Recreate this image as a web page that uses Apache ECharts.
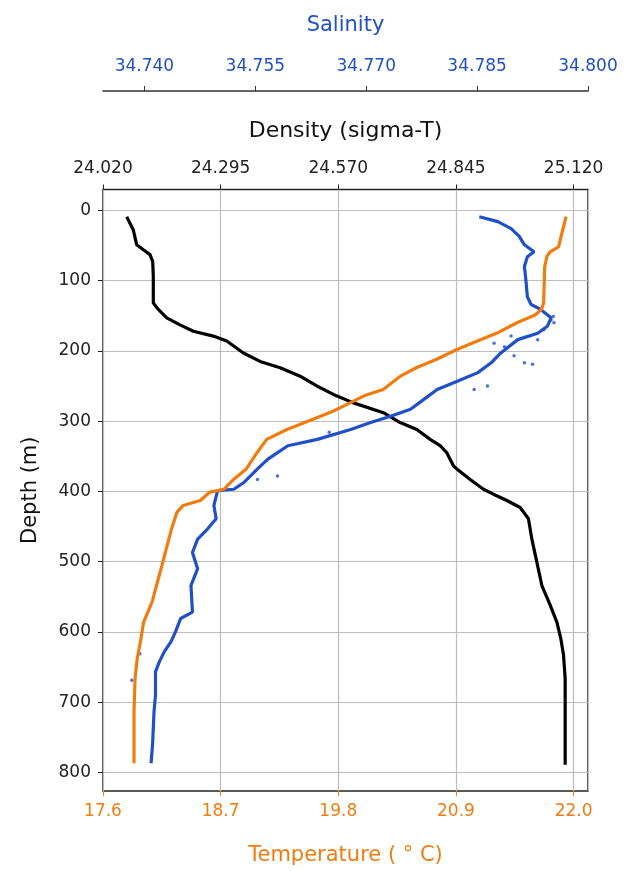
<!DOCTYPE html>
<html>
<head>
<meta charset="utf-8">
<script src="https://cdn.jsdelivr.net/npm/echarts@6/dist/echarts.min.js"></script>
<style>
html,body{margin:0;padding:0;background:#fff;}
#main{width:630px;height:871px;}
</style>
</head>
<body>
<div id="main"></div>
<script>
// temperature profile (orange)
var depthT = [9, 33, 52, 59, 66, 80, 132, 141, 149, 160, 175, 186, 198, 212, 224, 236, 255, 264, 274, 286, 297, 312, 326, 345, 368, 383, 397, 401, 413, 420, 430, 454, 477, 506, 534, 557, 586, 614, 638, 666, 714, 787];
var tempVals = [21.93, 21.89, 21.86, 21.78, 21.75, 21.73, 21.72, 21.70, 21.64, 21.47, 21.28, 21.10, 20.91, 20.72, 20.53, 20.38, 20.22, 20.04, 19.91, 19.75, 19.57, 19.32, 19.13, 19.04, 18.94, 18.82, 18.73, 18.60, 18.51, 18.35, 18.29, 18.24, 18.20, 18.15, 18.10, 18.06, 17.98, 17.95, 17.92, 17.90, 17.89, 17.89];

// salinity profile (blue)
var depthS = [9, 16, 26, 37, 49, 59, 66, 80, 99, 123, 134, 141, 153, 165, 175, 184, 203, 217, 231, 243, 255, 269, 283, 293, 302, 312, 326, 335, 354, 368, 387, 397, 399, 420, 439, 454, 468, 487, 510, 534, 572, 581, 600, 614, 628, 643, 657, 690, 714, 761, 787];
var salVals = [34.7853, 34.7878, 34.7896, 34.7907, 34.7914, 34.7927, 34.7918, 34.7914, 34.7916, 34.7918, 34.7923, 34.7936, 34.7950, 34.7945, 34.7932, 34.7905, 34.7882, 34.7869, 34.7851, 34.7824, 34.7796, 34.7778, 34.7760, 34.7733, 34.7706, 34.7679, 34.7634, 34.7594, 34.7567, 34.7553, 34.7535, 34.7521, 34.7499, 34.7494, 34.7497, 34.7485, 34.7472, 34.7465, 34.7472, 34.7463, 34.7465, 34.7449, 34.7442, 34.7436, 34.7427, 34.7420, 34.7415, 34.7415, 34.7413, 34.7411, 34.7409];

// scattered salinity samples off the main trace
var depthSalDots = [151, 156, 160, 170, 179, 184, 189, 194, 207, 217, 219, 250, 255, 316, 378, 383, 631, 669];
var salDots = [34.7953, 34.7950, 34.7954, 34.7940, 34.7896, 34.7932, 34.7873, 34.7887, 34.7900, 34.7914, 34.7925, 34.7864, 34.7846, 34.7650, 34.7580, 34.7553, 34.7394, 34.7383];

// density profile (black)
var depthD = [9, 28, 49, 56, 63, 73, 94, 132, 141, 153, 163, 172, 179, 186, 203, 215, 224, 236, 250, 262, 274, 288, 302, 312, 326, 335, 345, 364, 368, 383, 397, 404, 413, 423, 439, 468, 501, 534, 562, 586, 610, 633, 666, 714, 789];
var densVals = [24.0754, 24.0909, 24.0988, 24.1143, 24.1299, 24.1362, 24.1376, 24.1376, 24.1493, 24.1690, 24.2000, 24.2312, 24.2780, 24.3093, 24.3481, 24.3872, 24.4340, 24.4807, 24.5198, 24.5586, 24.6054, 24.6755, 24.7145, 24.7536, 24.7847, 24.8080, 24.8237, 24.8393, 24.8471, 24.8782, 24.9093, 24.9327, 24.9640, 24.9951, 25.0145, 25.0225, 25.0342, 25.0459, 25.0653, 25.0809, 25.0903, 25.0965, 25.1003, 25.1003, 25.1003];

var depthTicks = [0, 100, 200, 300, 400, 500, 600, 700, 800];
var salTicks = [34.740, 34.755, 34.770, 34.785, 34.800];

var ORANGE = '#f07c10';
var BLUE = '#2050c8';
var FONT = 'DejaVu Sans';

function pairs(xs, ys) {
    var out = [];
    for (var i = 0; i < xs.length; i++) {
        out.push([xs[i], ys[i]]);
    }
    return out;
}

var myChart = echarts.init(document.getElementById('main'));

var option = {
    animation: false,
    backgroundColor: '#fff',
    textStyle: { fontFamily: FONT },
    grid: {
        left: 103, right: 42, top: 189.5, bottom: 77,
        show: true, borderColor: '#222', borderWidth: 1.5,
        backgroundColor: 'transparent'
    },
    xAxis: [
        {   // temperature, bottom
            type: 'value',
            position: 'bottom',
            min: 17.6, max: 22.135, interval: 1.1,
            name: 'Temperature ( \u00b0 C)',
            nameLocation: 'middle', nameGap: 54,
            nameTextStyle: { color: ORANGE, fontSize: 21, fontFamily: FONT },
            axisLine: { show: false, onZero: false },
            axisTick: { show: true, length: 5, lineStyle: { color: ORANGE } },
            axisLabel: {
                color: ORANGE, fontSize: 17, margin: 12, showMaxLabel: false,
                formatter: function (v) { return v.toFixed(1); }
            },
            splitLine: { show: true, lineStyle: { color: '#bdbdbd', width: 1.2 } }
        },
        {   // density, top
            type: 'value',
            position: 'top',
            min: 24.02, max: 25.1537, interval: 0.275,
            name: 'Density (sigma-T)',
            nameLocation: 'middle', nameGap: 47,
            nameTextStyle: { color: '#111', fontSize: 22, fontFamily: FONT },
            axisLine: { show: false, onZero: false },
            axisTick: { show: true, length: 5, lineStyle: { color: '#222' } },
            axisLabel: {
                color: '#222', fontSize: 17, margin: 12, showMaxLabel: false,
                formatter: function (v) { return v.toFixed(3); }
            },
            splitLine: { show: false }
        },
        {   // salinity, upper detached axis
            type: 'value',
            position: 'top',
            offset: 98.5,
            min: 34.7344, max: 34.800,
            name: 'Salinity',
            nameLocation: 'middle', nameGap: 55,
            nameTextStyle: { color: BLUE, fontSize: 21, fontFamily: FONT },
            axisLine: { show: true, onZero: false, lineStyle: { color: '#333', width: 1.5 } },
            axisTick: { show: true, length: 5, customValues: salTicks, lineStyle: { color: '#333' } },
            axisLabel: {
                color: BLUE, fontSize: 17, margin: 16, customValues: salTicks,
                formatter: function (v) { return v.toFixed(3); }
            },
            splitLine: { show: false }
        }
    ],
    yAxis: [
        {
            type: 'value',
            inverse: true,
            min: -29.7, max: 826.5,
            name: 'Depth (m)',
            nameLocation: 'middle', nameGap: 62, nameRotate: 90,
            nameTextStyle: { color: '#111', fontSize: 21, fontFamily: FONT },
            axisLine: { show: false, onZero: false },
            axisTick: { show: true, length: 5, customValues: depthTicks, lineStyle: { color: '#222' } },
            axisLabel: { color: '#222', fontSize: 17, margin: 12, customValues: depthTicks },
            splitLine: { show: true, lineStyle: { color: '#bdbdbd', width: 1.2 } }
        }
    ],
    series: [
        {
            name: 'Density',
            type: 'line',
            xAxisIndex: 1, yAxisIndex: 0,
            data: pairs(densVals, depthD),
            showSymbol: false,
            lineStyle: { color: '#000', width: 3.2 },
            z: 3
        },
        {
            name: 'Salinity',
            type: 'line',
            xAxisIndex: 2, yAxisIndex: 0,
            data: pairs(salVals, depthS),
            showSymbol: false,
            lineStyle: { color: BLUE, width: 3.2 },
            z: 4
        },
        {
            name: 'Salinity dots',
            type: 'scatter',
            xAxisIndex: 2, yAxisIndex: 0,
            data: pairs(salDots, depthSalDots),
            symbolSize: 3.5,
            itemStyle: { color: BLUE },
            z: 4
        },
        {
            name: 'Temperature',
            type: 'line',
            xAxisIndex: 0, yAxisIndex: 0,
            data: pairs(tempVals, depthT),
            showSymbol: false,
            lineStyle: { color: ORANGE, width: 3.2 },
            z: 5
        }
    ]
};
myChart.setOption(option);
</script>
</body>
</html>
